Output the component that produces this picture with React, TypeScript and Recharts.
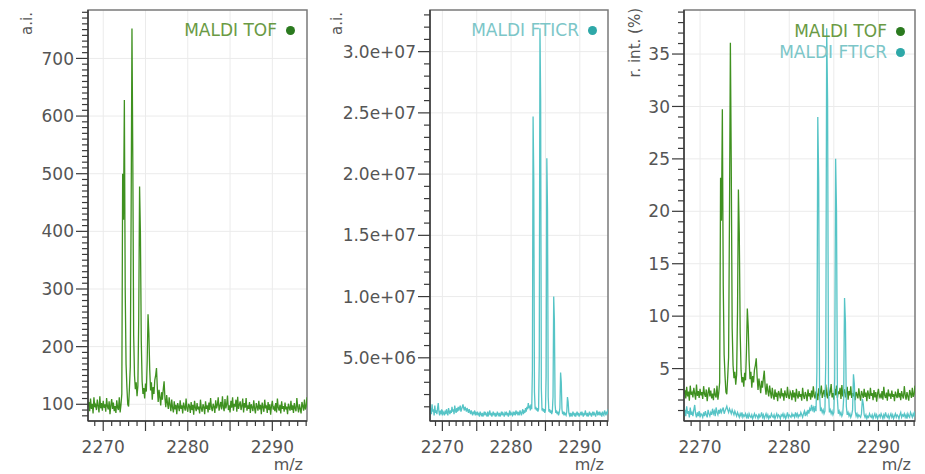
import { LineChart, Line, XAxis, YAxis, CartesianGrid, Legend, ReferenceArea } from 'recharts';

const FONT = "'DejaVu Sans', Verdana, sans-serif";
const AXIS = '#3a3a3a';
const TEXT = '#555';

// m/z sampling of the spectra
const MZ_START = 2268.2;
const MZ_STEP = 0.1;

// MALDI TOF intensity (a.i.)
const TOF_AI = [
  96, 104, 88, 110, 92, 101, 84, 112, 95, 99,
  90, 108, 97, 86, 114, 93, 102, 89, 106, 94,
  100, 87, 111, 96, 91, 105, 83, 98, 109, 92,
  103, 88, 97, 85, 107, 94, 90, 112, 86, 99,
  118, 500, 420, 628, 300, 170, 130, 100, 96, 128,
  165, 430, 752, 520, 220, 150, 126, 138, 114, 132,
  250, 478, 395, 210, 140, 118, 128, 110, 136, 122,
  175, 256, 222, 160, 124, 138, 108, 130, 118, 142,
  150, 163, 128, 104, 125, 112, 98, 121, 108, 126,
  140, 110, 95, 116, 102, 92, 112, 99, 88, 108,
  94, 86, 105, 91, 99, 83, 102, 96, 88, 107,
  92, 98, 84, 103, 95, 89, 110, 93, 87, 101,
  97, 85, 104, 90, 99, 82, 106, 94, 88, 102,
  91, 96, 84, 108, 93, 87, 100, 95, 83, 105,
  92, 98, 86, 103, 90, 111, 94, 88, 101, 96,
  85, 107, 93, 99, 112, 89, 97, 104, 91, 114,
  95, 88, 109, 93, 100, 115, 90, 98, 86, 106,
  94, 112, 89, 101, 96, 108, 87, 113, 92, 99,
  105, 90, 97, 110, 86, 102, 94, 111, 89, 98,
  92, 104, 85, 100, 95, 88, 107, 93, 84, 102,
  96, 89, 106, 91, 99, 83, 103, 95, 87, 108,
  93, 98, 85, 104, 90, 100, 82, 97, 106, 91,
  95, 88, 102, 86, 110, 94, 89, 99, 84, 105,
  92, 97, 87, 103, 91, 96, 83, 101, 94, 89,
  106, 90, 98, 85, 102, 93, 88, 111, 95, 86,
  100, 92, 84, 104, 97, 89, 108, 91, 96, 112,
];

// MALDI FTICR intensity (a.i., in units of 1e6)
const FTICR_AI = [
  0.5, 0.9, 0.4, 1.2, 0.6, 0.8, 0.3, 1.1, 0.5, 0.7,
  0.4, 0.9, 1.3, 0.6, 0.3, 0.7, 0.4, 0.8, 0.3, 0.6,
  0.5, 0.3, 0.7, 0.4, 0.8, 0.5, 0.3, 0.9, 0.6, 0.4,
  0.7, 0.5, 1.0, 0.6, 0.8, 0.4, 1.1, 0.7, 0.5, 0.9,
  0.6, 1.0, 0.7, 0.9, 1.1, 0.6, 0.8, 1.0, 1.2, 0.9,
  0.7, 1.0, 0.8, 0.6, 0.9, 0.7, 0.5, 0.8, 0.6, 0.4,
  0.7, 0.5, 0.3, 0.6, 0.4, 0.7, 0.3, 0.5, 0.4, 0.6,
  0.3, 0.5, 0.2, 0.6, 0.4, 0.3, 0.5, 0.2, 0.4, 0.6,
  0.3, 0.5, 0.4, 0.2, 0.6, 0.3, 0.4, 0.7, 0.3, 0.5,
  0.2, 0.4, 0.6, 0.3, 0.5, 0.2, 0.4, 0.3, 0.6, 0.4,
  0.3, 0.5, 0.2, 0.4, 0.6, 0.3, 0.5, 0.4, 0.2, 0.5,
  0.4, 0.6, 0.3, 0.5, 0.2, 0.4, 0.7, 0.3, 0.5, 0.4,
  0.3, 0.6, 0.4, 0.5, 0.3, 0.7, 0.4, 0.6, 0.3, 0.5,
  0.4, 0.7, 0.5, 0.3, 0.6, 0.8, 0.4, 0.7, 0.5, 0.9,
  0.6, 1.0, 0.8, 1.3, 0.9, 1.1, 0.7, 1.2, 0.8, 4.0,
  24.7, 19.5, 2.2, 0.8, 1.0, 0.7, 0.9, 0.6, 0.8, 5.0,
  31.9, 26.0, 2.5, 0.7, 0.9, 0.6, 0.8, 0.5, 0.7, 3.5,
  21.3, 17.0, 1.8, 0.6, 0.8, 0.5, 0.7, 0.4, 0.6, 1.8,
  10.0, 8.0, 1.2, 0.5, 0.7, 0.4, 0.6, 0.3, 0.5, 0.9,
  3.8, 3.0, 0.8, 0.4, 0.6, 0.3, 0.5, 0.4, 0.3, 0.6,
  1.8, 1.4, 0.5, 0.3, 0.5, 0.2, 0.4, 0.3, 0.6, 0.4,
  0.3, 0.5, 0.2, 0.4, 0.6, 0.3, 0.5, 0.2, 0.4, 0.5,
  0.3, 0.6, 0.4, 0.2, 0.5, 0.3, 0.7, 0.4, 0.3, 0.5,
  0.2, 0.4, 0.6, 0.3, 0.5, 0.2, 0.4, 0.6, 0.3, 0.5,
  0.4, 0.2, 0.5, 0.7, 0.3, 0.5, 0.4, 0.6, 0.3, 0.5,
  0.2, 0.6, 0.4, 0.3, 0.7, 0.5, 0.3, 0.6, 0.4, 0.8,
];

// conversion to relative intensity (%) used in the third panel
const TOF_REL_OFFSET = 46;
const TOF_REL_SCALE = 0.0511;
const FTICR_REL_SCALE = 1.174;

const X_DOMAIN = [2268.2, 2294.1];
const X_LABELS = [2270, 2280, 2290];
const X_GRID = [2270, 2275, 2280, 2285, 2290];

const TOF_Y_LABELS = [100, 200, 300, 400, 500, 600, 700];
const FTICR_Y_LABELS = [5, 10, 15, 20, 25, 30];
const REL_Y_LABELS = [5, 10, 15, 20, 25, 30, 35];

const TOF_NAME = 'MALDI TOF';
const FTICR_NAME = 'MALDI FTICR';
const LEGEND_ORDER = [TOF_NAME, FTICR_NAME];
const LINE_COLOR: Record<string, string> = { [TOF_NAME]: '#3f9120', [FTICR_NAME]: '#56c4c6' };
const LEGEND_TEXT: Record<string, string> = { [TOF_NAME]: '#6a9a44', [FTICR_NAME]: '#7cc6c8' };
const LEGEND_DOT: Record<string, string> = { [TOF_NAME]: '#2b7a1f', [FTICR_NAME]: '#2ea8a8' };

const data = TOF_AI.map((v, i) => ({
  mz: +(MZ_START + i * MZ_STEP).toFixed(1),
  tof: v,
  fticr: FTICR_AI[i],
  tofRel: +((v - TOF_REL_OFFSET) * TOF_REL_SCALE).toFixed(2),
  fticrRel: +(FTICR_AI[i] * FTICR_REL_SCALE).toFixed(2),
}));

const range = (a: number, b: number, s: number) => {
  const out: number[] = [];
  for (let v = a; v <= b + 1e-9; v += s) out.push(+v.toFixed(3));
  return out;
};

const X_TICKS = range(2269, 2294, 1);

function YTick(props: any) {
  const { x, y, payload, labels, fmt } = props;
  const major = labels.includes(payload.value);
  return (
    <g>
      <line x1={x - (major ? 12 : 6)} x2={x} y1={y} y2={y} stroke={AXIS} strokeWidth={1.2} />
      {major && (
        <text x={x - 14} y={y} dy="0.36em" textAnchor="end" fill={TEXT} fontSize={17} fontFamily={FONT}>
          {fmt(payload.value)}
        </text>
      )}
    </g>
  );
}

function XTick(props: any) {
  const { x, y, payload } = props;
  const v = payload.value;
  const major = v % 5 === 0;
  return (
    <g>
      <line x1={x} x2={x} y1={y} y2={y + (major ? 10 : 5)} stroke={AXIS} strokeWidth={1.2} />
      {X_LABELS.includes(v) && (
        <text x={x} y={y + 32} textAnchor="middle" fill={TEXT} fontSize={17} fontFamily={FONT}>
          {v}
        </text>
      )}
    </g>
  );
}

function LegendBox({ payload }: any) {
  const items = [...(payload || [])].sort(
    (a: any, b: any) => LEGEND_ORDER.indexOf(a.value) - LEGEND_ORDER.indexOf(b.value),
  );
  return (
    <div style={{ fontFamily: FONT, fontSize: 17, lineHeight: '21px' }}>
      {items.map((p: any) => (
        <div key={p.value} style={{ display: 'flex', justifyContent: 'flex-end', alignItems: 'center' }}>
          <span style={{ color: LEGEND_TEXT[p.value] }}>{p.value}</span>
          <span
            style={{
              width: 9,
              height: 9,
              borderRadius: '50%',
              background: LEGEND_DOT[p.value],
              marginLeft: 9,
              display: 'inline-block',
            }}
          />
        </div>
      ))}
    </div>
  );
}

interface PanelProps {
  left: number;
  width: number;
  margin: { top: number; right: number; bottom: number; left: number };
  yWidth: number;
  yDomain: [number, number];
  yMinor: number[];
  yLabels: number[];
  yFmt: (v: number) => string;
  yTitle: string;
  yTitleX: number;
  yTitleY: number;
  series: { key: string; name: string }[];
  legendTop: number;
  legendRight: number;
}

function Panel(p: PanelProps) {
  const plotRight = p.width - p.margin.right;
  return (
    <div style={{ position: 'absolute', left: p.left, top: 0 }}>
      <LineChart width={p.width} height={474} data={data} margin={p.margin}>
        <CartesianGrid stroke="#ebebeb" horizontalValues={p.yLabels} verticalValues={X_GRID} />
        <XAxis
          dataKey="mz"
          type="number"
          domain={X_DOMAIN}
          allowDataOverflow
          ticks={X_TICKS}
          interval={0}
          height={30}
          tickSize={0}
          tickMargin={0}
          tickLine={false}
          axisLine={{ stroke: AXIS, strokeWidth: 1.5 }}
          tick={(t: any) => <XTick {...t} />}
          label={{
            value: 'm/z',
            content: () => (
              <text x={plotRight - 4} y={470} textAnchor="end" fill={TEXT} fontSize={16} fontFamily={FONT}>
                m/z
              </text>
            ),
          }}
        />
        <YAxis
          type="number"
          domain={p.yDomain}
          allowDataOverflow
          ticks={p.yMinor}
          interval={0}
          width={p.yWidth}
          tickSize={0}
          tickMargin={0}
          tickLine={false}
          axisLine={{ stroke: AXIS, strokeWidth: 1.5 }}
          tick={(t: any) => <YTick {...t} labels={p.yLabels} fmt={p.yFmt} />}
          label={{
            value: p.yTitle,
            content: () => (
              <text
                x={p.yTitleX}
                y={p.yTitleY}
                transform={`rotate(-90 ${p.yTitleX} ${p.yTitleY})`}
                textAnchor="end"
                fill={TEXT}
                fontSize={15}
                fontFamily={FONT}
              >
                {p.yTitle}
              </text>
            ),
          }}
        />
        {p.series.map((s) => (
          <Line
            key={s.key}
            dataKey={s.key}
            name={s.name}
            type="linear"
            stroke={LINE_COLOR[s.name]}
            strokeWidth={1.3}
            dot={false}
            activeDot={false}
            isAnimationActive={false}
          />
        ))}
        <ReferenceArea
          x1={X_DOMAIN[0]}
          x2={X_DOMAIN[1]}
          y1={p.yDomain[0]}
          y2={p.yDomain[1]}
          fill="none"
          stroke="#7a7a7a"
          strokeWidth={1.5}
          ifOverflow="visible"
        />
        <Legend
          layout="horizontal"
          verticalAlign="middle"
          align="center"
          content={(lp: any) => <LegendBox {...lp} />}
          wrapperStyle={{ top: p.legendTop, right: p.legendRight, left: 'auto', width: 'auto', height: 'auto' }}
        />
      </LineChart>
    </div>
  );
}

const sci = (v: number) => (v * 1e6).toExponential(1).replace(/e\+(\d)$/, 'e+0$1');

export default function App() {
  return (
    <div style={{ position: 'absolute', left: 0, top: 0, width: 925, height: 474, background: '#fff' }}>
      <Panel
        left={0}
        width={310}
        margin={{ top: 10, right: 3, bottom: 23, left: 8 }}
        yWidth={80}
        yDomain={[71, 784]}
        yMinor={range(80, 780, 10)}
        yLabels={TOF_Y_LABELS}
        yFmt={(v) => String(v)}
        yTitle="a.i."
        yTitleX={32}
        yTitleY={12}
        series={[{ key: 'tof', name: TOF_NAME }]}
        legendTop={20}
        legendRight={15}
      />
      <Panel
        left={310}
        width={305}
        margin={{ top: 10, right: 7, bottom: 23, left: 10 }}
        yWidth={110}
        yDomain={[-0.16, 33.4]}
        yMinor={range(1, 33, 1)}
        yLabels={FTICR_Y_LABELS}
        yFmt={sci}
        yTitle="a.i."
        yTitleX={32}
        yTitleY={12}
        series={[{ key: 'fticr', name: FTICR_NAME }]}
        legendTop={20}
        legendRight={18}
      />
      <Panel
        left={615}
        width={310}
        margin={{ top: 10, right: 10, bottom: 23, left: 9 }}
        yWidth={60}
        yDomain={[0, 39.2]}
        yMinor={range(1, 39, 1)}
        yLabels={REL_Y_LABELS}
        yFmt={(v) => String(v)}
        yTitle="r. int. (%)"
        yTitleX={25}
        yTitleY={8}
        series={[
          { key: 'tofRel', name: TOF_NAME },
          { key: 'fticrRel', name: FTICR_NAME },
        ]}
        legendTop={21}
        legendRight={20}
      />
    </div>
  );
}
